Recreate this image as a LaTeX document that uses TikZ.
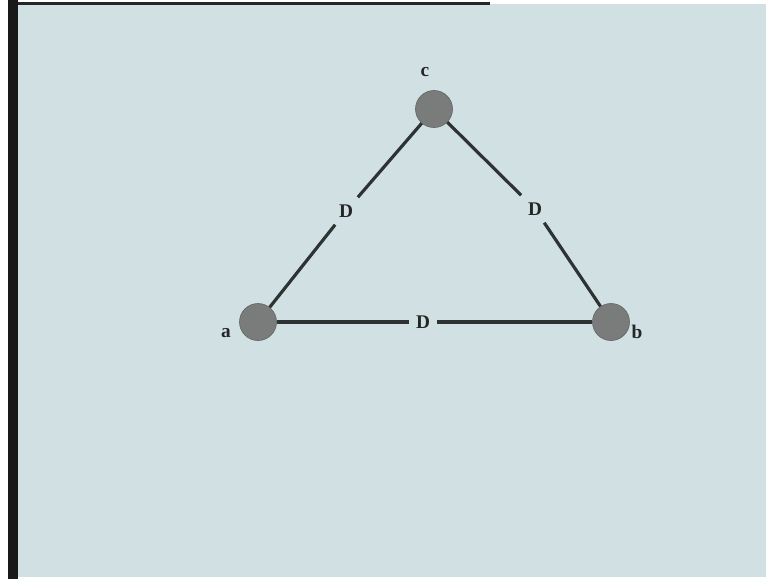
\documentclass[tikz,border=0pt]{standalone}
\usepackage{fontspec}
\setmainfont{Liberation Serif}
\usepackage{xcolor}
\usepackage{tikz}
\usetikzlibrary{positioning}
\definecolor{slide}{RGB}{208,224,227}
\definecolor{dot}{RGB}{122,124,124}
\definecolor{wire}{RGB}{45,50,50}

\begin{document}
\begin{tikzpicture}[x=0.02cm,y=-0.02cm,
  bus/.style={circle,fill=dot,draw=dot!85!black,minimum size=0.74cm,inner sep=0pt},
  lab/.style={font=\bfseries\fontsize{11}{13}\selectfont,text=black!85},
  len/.style={lab,inner sep=4pt},
  wirel/.style={wire,line width=1.8pt}]
\useasboundingbox (0,0) rectangle (766,579);
\fill[white] (0,0) rectangle (766,579);
\fill[slide] (18,4) rectangle (766,577);
\fill[black!90] (8,0) rectangle (18,579);
\fill[black!85] (18,2) rectangle (490,5);
\node[bus] (a) at (258,322) {};
\node[bus] (b) at (611,322) {};
\node[bus] (c) at (434,109) {};
\node[lab] (la) at (226,333) {a};
\node[lab] (lb) at (637,332) {b};
\node[lab] (lc) at (425,72)  {c};
\node[len] (dac) at (346,211) {D};
\node[len] (dcb) at (535,209) {D};
\node[len] (dab) at (423,322) {D};
\draw[wirel] (a) -- (dac) -- (c);
\draw[wirel] (c) -- (dcb) -- (b);
\draw[wirel] (a) -- (dab) -- (b);
\end{tikzpicture}
\end{document}
